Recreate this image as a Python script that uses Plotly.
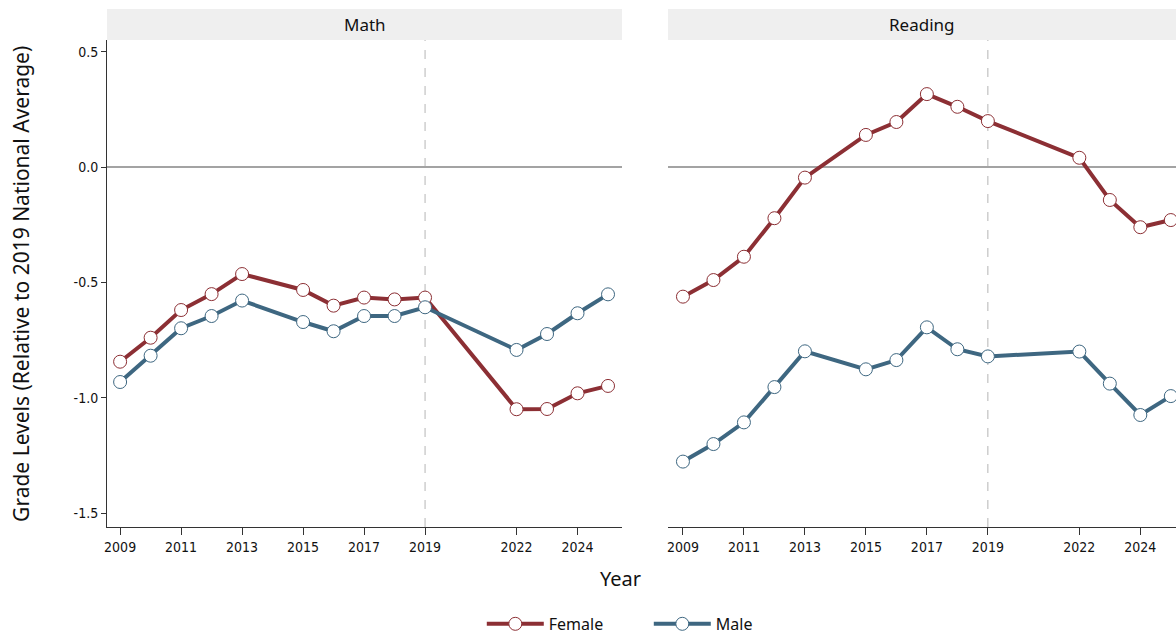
import plotly.graph_objects as go

# Assessment years (no 2014, 2020, 2021)
years = [2009, 2010, 2011, 2012, 2013, 2015, 2016, 2017, 2018, 2019, 2022, 2023, 2024, 2025]

math_female = [-0.844, -0.740, -0.620, -0.551, -0.464, -0.533, -0.601, -0.566, -0.574, -0.566,
               -1.050, -1.049, -0.981, -0.949]
math_male = [-0.932, -0.818, -0.699, -0.646, -0.579, -0.672, -0.712, -0.646, -0.646, -0.608,
             -0.793, -0.724, -0.634, -0.552]
reading_female = [-0.562, -0.490, -0.389, -0.222, -0.046, 0.139, 0.195, 0.316, 0.261, 0.199,
                  0.040, -0.143, -0.261, -0.230]
reading_male = [-1.277, -1.201, -1.107, -0.954, -0.799, -0.877, -0.837, -0.695, -0.790, -0.821,
                -0.800, -0.939, -1.075, -0.993]

x_tick_years = [2009, 2011, 2013, 2015, 2017, 2019, 2022, 2024]
y_tick_vals = [0.5, 0.0, -0.5, -1.0, -1.5]
y_tick_text = ["0.5", "0.0", "-0.5", "-1.0", "-1.5"]

panels = ["Math", "Reading"]
series_names = ["Female", "Male"]
reference_year = 2019

FEMALE = "#8c2f34"
MALE = "#3e6781"
TICK_FONT = dict(family="Liberation Sans Narrow, DejaVu Sans Condensed, Arial Narrow, sans-serif",
                 size=14, color="#111")
TITLE_FONT = "Noto Sans, Open Sans, sans-serif"

fig = go.Figure()

panel_data = {
    "Math": (math_female, math_male),
    "Reading": (reading_female, reading_male),
}
axis_ids = {"Math": ("x", "y"), "Reading": ("x2", "y2")}

for panel in panels:
    xa, ya = axis_ids[panel]
    for name, values, color in zip(series_names, panel_data[panel], [FEMALE, MALE]):
        fig.add_trace(go.Scatter(
            x=years, y=values, name=name, xaxis=xa, yaxis=ya,
            mode="lines+markers",
            line=dict(color=color, width=4),
            marker=dict(size=13, color="white", line=dict(color=color, width=1)),
            showlegend=(panel == "Math"),
            legendgroup=name,
        ))

xaxis_common = dict(
    tickvals=x_tick_years, ticks="outside", ticklen=7, tickcolor="#333",
    showline=True, linecolor="#333", linewidth=1, showgrid=False, zeroline=False,
    tickfont=TICK_FONT, fixedrange=True,
)
yaxis_common = dict(
    range=[-1.5605, 0.5505], showgrid=False,
    zeroline=True, zerolinecolor="#a3a3a3", zerolinewidth=1.5,
    tickvals=y_tick_vals, ticktext=y_tick_text, fixedrange=True,
)

fig.update_layout(
    width=1176, height=635,
    margin=dict(l=107, r=0, t=40, b=108, autoexpand=False),
    paper_bgcolor="white", plot_bgcolor="white",
    xaxis=dict(domain=[0, 0.4818], range=[2008.57, 2025.46], **xaxis_common),
    xaxis2=dict(domain=[0.5248, 1.0], range=[2008.51, 2025.17], **xaxis_common),
    yaxis=dict(anchor="x", showline=True, linecolor="#333", linewidth=1,
               ticks="outside", ticklen=5, tickcolor="#333", tickfont=TICK_FONT,
               **yaxis_common),
    yaxis2=dict(anchor="x2", matches="y", showline=False, ticks="",
                showticklabels=False, **yaxis_common),
    legend=dict(orientation="h", x=0.3506, xanchor="left", y=-0.199, yanchor="middle",
                font=dict(family=TITLE_FONT, size=16, color="#111"),
                itemwidth=57, entrywidth=95, tracegroupgap=0, bgcolor="rgba(0,0,0,0)"),
    showlegend=True,
)

shapes = []
annotations = []
for panel in panels:
    xa, ya = axis_ids[panel]
    # facet header strip
    shapes.append(dict(type="rect", xref=f"{xa} domain", yref="paper",
                       x0=0, x1=1, y0=1.0, y1=1.0637,
                       fillcolor="#efefef", line=dict(width=0), layer="below"))
    annotations.append(dict(text=panel, xref=f"{xa} domain", yref="paper",
                            x=0.5, y=1.0318, showarrow=False, xanchor="center", yanchor="middle",
                            font=dict(family=TITLE_FONT, size=17, color="#111")))
    # reference-year marker
    shapes.append(dict(type="line", xref=xa, yref=f"{ya} domain",
                       x0=reference_year, x1=reference_year, y0=0, y1=1,
                       line=dict(color="#b5b5b5", width=1, dash="dash"), layer="below"))

annotations.append(dict(text="Year", xref="paper", yref="paper", x=0.48, y=-0.105,
                        showarrow=False, xanchor="center", yanchor="middle",
                        font=dict(family=TITLE_FONT, size=20, color="#111")))
annotations.append(dict(text="Grade Levels (Relative to 2019 National Average)",
                        xref="paper", yref="paper", x=-0.081, y=0.5, textangle=-90,
                        showarrow=False, xanchor="center", yanchor="middle",
                        font=dict(family=TITLE_FONT, size=21, color="#111")))

fig.update_layout(shapes=shapes, annotations=annotations)

fig.write_html("out.html")
